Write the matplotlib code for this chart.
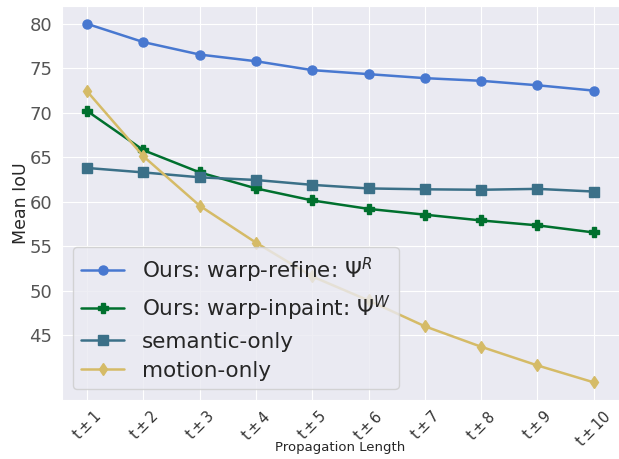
import matplotlib
matplotlib.use("Agg")
import matplotlib.pyplot as plt
import seaborn as sns

sns.set_style("darkgrid")

# data
steps = [r"$\mathregular{t\pm%d}$" % i for i in range(1, 11)]
xs = list(range(1, 11))
warp_refine = [80.0, 77.95, 76.55, 75.8, 74.8, 74.35, 73.9, 73.6, 73.1, 72.5]
warp_inpaint = [70.2, 65.8, 63.3, 61.5, 60.15, 59.2, 58.55, 57.9, 57.35, 56.55]
semantic_only = [63.8, 63.3, 62.75, 62.45, 61.9, 61.5, 61.4, 61.35, 61.45, 61.15]
motion_only = [72.4, 65.1, 59.55, 55.4, 51.6, 48.9, 46.0, 43.7, 41.6, 39.7]

fig = plt.figure(figsize=(6.19, 4.59), dpi=100)
ax = fig.add_axes([0.1, 0.128, 0.9, 0.859])

ax.plot(xs, warp_refine, marker="o", color="#4878d0", lw=1.8, ms=6.5,
        label="Ours: warp-refine: $\\Psi^R$")
ax.plot(xs, warp_inpaint, marker="P", color="#00702e", lw=1.8, ms=6.5,
        label="Ours: warp-inpaint: $\\Psi^W$")
ax.plot(xs, semantic_only, marker="s", color="#3b7088", lw=1.8, ms=6.5,
        label="semantic-only")
ax.plot(xs, motion_only, marker="d", color="#d5bb67", lw=1.8, ms=6.5,
        label="motion-only")

ax.set_xticks(xs)
ax.set_xticklabels(steps, rotation=45, fontsize=10.5, color="#333333")
ax.tick_params(axis="x", pad=2)
ax.set_yticks([45, 50, 55, 60, 65, 70, 75, 80])
ax.tick_params(axis="y", labelsize=13, labelcolor="#555555")
ax.set_ylabel("Mean IoU", fontsize=12.5)
ax.yaxis.set_label_coords(-0.058, 0.5)
ax.set_xlabel("Propagation Length", fontsize=9.5)
ax.xaxis.set_label_coords(0.5, -0.119)
ax.xaxis.label.set_va("center")

ax.legend(loc="lower left", fontsize=15.5, labelspacing=0.42)

fig.savefig("out.png", dpi=100)
